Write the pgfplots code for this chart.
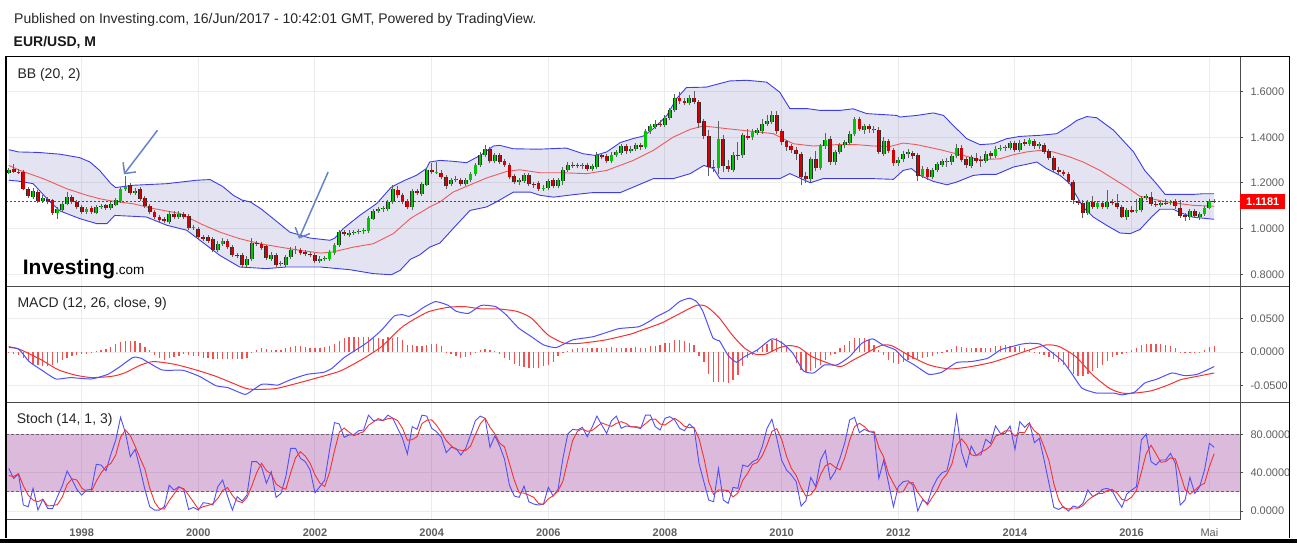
\documentclass[border=0pt]{standalone}
\usepackage{fontspec}
\setmainfont{Liberation Sans}
\usepackage{pgfplots}
\usepackage{pgfplotstable}
\pgfplotsset{compat=1.18}
\usetikzlibrary{arrows.meta}

\definecolor{cgreen}{RGB}{0,200,0}
\definecolor{cred}{RGB}{215,0,0}
\definecolor{cedge}{RGB}{45,45,45}
\definecolor{cwick}{RGB}{95,95,95}
\definecolor{bbblue}{RGB}{60,60,235}
\definecolor{bbred}{RGB}{240,90,90}
\definecolor{bbfill}{RGB}{0,0,128}
\definecolor{lblue}{RGB}{80,80,250}
\definecolor{lred}{RGB}{245,50,50}
\definecolor{histred}{RGB}{245,80,80}
\definecolor{stfill}{RGB}{128,0,128}
\definecolor{dashgray}{RGB}{105,95,115}
\definecolor{gridc}{RGB}{236,236,236}
\definecolor{axc}{RGB}{75,75,75}
\definecolor{labc}{RGB}{95,95,95}
\definecolor{arrowc}{RGB}{104,132,200}

% month index: 24 = Jan 1998 ... 257 = Jun 2017
% candle high / low
\pgfplotstableread{
i H L
9 1.265 1.238
10 1.284 1.244
11 1.262 1.238
12 1.258 1.168
13 1.184 1.136
14 1.178 1.130
15 1.170 1.112
16 1.146 1.112
17 1.140 1.106
18 1.132 1.058
19 1.094 1.044
20 1.118 1.072
21 1.160 1.102
22 1.146 1.108
23 1.124 1.086
24 1.104 1.064
25 1.096 1.066
26 1.098 1.064
27 1.104 1.062
28 1.108 1.088
29 1.110 1.082
30 1.116 1.082
31 1.136 1.098
32 1.184 1.114
33 1.230 1.166
34 1.200 1.148
35 1.176 1.148
36 1.182 1.122
37 1.142 1.090
38 1.108 1.064
39 1.082 1.042
40 1.060 1.028
41 1.052 1.024
42 1.076 1.020
43 1.076 1.042
44 1.076 1.044
45 1.074 1.042
46 1.062 0.994
47 1.016 0.994
48 1.008 0.954
49 0.972 0.946
50 0.972 0.938
51 0.962 0.896
52 0.944 0.896
53 0.958 0.926
54 0.956 0.910
55 0.928 0.874
56 0.894 0.870
57 0.892 0.828
58 0.878 0.830
59 0.960 0.860
60 0.948 0.924
61 0.942 0.906
62 0.930 0.862
63 0.896 0.860
64 0.894 0.832
65 0.858 0.836
66 0.884 0.834
67 0.918 0.866
68 0.924 0.890
69 0.916 0.884
70 0.906 0.878
71 0.898 0.874
72 0.894 0.848
73 0.878 0.850
74 0.882 0.858
75 0.906 0.860
76 0.938 0.886
77 0.996 0.920
78 0.996 0.968
79 0.992 0.964
80 0.994 0.972
81 0.998 0.976
82 1.002 0.978
83 1.056 0.980
84 1.086 1.036
85 1.096 1.068
86 1.100 1.074
87 1.126 1.078
88 1.190 1.108
89 1.186 1.136
90 1.154 1.106
91 1.130 1.084
92 1.172 1.082
93 1.174 1.148
94 1.206 1.144
95 1.264 1.186
96 1.288 1.240
97 1.290 1.238
98 1.256 1.216
99 1.236 1.172
100 1.224 1.188
101 1.232 1.204
102 1.224 1.188
103 1.224 1.188
104 1.250 1.206
105 1.288 1.232
106 1.334 1.268
107 1.366 1.316
108 1.358 1.286
109 1.332 1.286
110 1.330 1.282
111 1.304 1.270
112 1.288 1.216
113 1.238 1.194
114 1.222 1.190
115 1.242 1.198
116 1.242 1.188
117 1.206 1.180
118 1.208 1.166
119 1.190 1.166
120 1.218 1.170
121 1.220 1.180
122 1.220 1.180
123 1.268 1.192
124 1.290 1.250
125 1.294 1.266
126 1.288 1.264
127 1.288 1.262
128 1.286 1.252
129 1.282 1.254
130 1.334 1.262
131 1.332 1.304
132 1.326 1.286
133 1.334 1.286
134 1.346 1.314
135 1.372 1.324
136 1.372 1.328
137 1.360 1.330
138 1.376 1.338
139 1.374 1.344
140 1.436 1.348
141 1.458 1.416
142 1.474 1.436
143 1.476 1.446
144 1.496 1.446
145 1.530 1.474
146 1.590 1.510
147 1.600 1.548
148 1.572 1.540
149 1.586 1.542
150 1.604 1.544
151 1.564 1.440
152 1.480 1.392
153 1.430 1.230
154 1.300 1.250
155 1.470 1.240
156 1.410 1.250
157 1.300 1.250
158 1.336 1.250
159 1.380 1.300
160 1.420 1.310
161 1.436 1.390
162 1.436 1.390
163 1.442 1.410
164 1.480 1.416
165 1.500 1.450
166 1.514 1.458
167 1.514 1.416
168 1.436 1.368
169 1.390 1.342
170 1.372 1.330
171 1.356 1.300
172 1.336 1.190
173 1.250 1.200
174 1.314 1.206
175 1.340 1.254
176 1.372 1.256
177 1.420 1.350
178 1.404 1.280
179 1.345 1.280
180 1.376 1.326
181 1.390 1.354
182 1.426 1.366
183 1.490 1.404
184 1.490 1.426
185 1.460 1.414
186 1.458 1.420
187 1.448 1.420
188 1.444 1.326
189 1.400 1.318
190 1.394 1.330
191 1.352 1.276
192 1.312 1.276
193 1.340 1.294
194 1.348 1.310
195 1.342 1.306
196 1.330 1.208
197 1.274 1.220
198 1.272 1.214
199 1.264 1.218
200 1.292 1.246
201 1.304 1.270
202 1.310 1.272
203 1.326 1.278
204 1.370 1.308
205 1.368 1.292
206 1.316 1.266
207 1.324 1.264
208 1.330 1.286
209 1.320 1.270
210 1.340 1.286
211 1.342 1.306
212 1.360 1.308
213 1.366 1.340
214 1.368 1.342
215 1.386 1.344
216 1.386 1.336
217 1.388 1.336
218 1.392 1.362
219 1.398 1.362
220 1.394 1.350
221 1.380 1.350
222 1.374 1.326
223 1.350 1.300
224 1.320 1.246
225 1.270 1.240
226 1.258 1.230
227 1.250 1.194
228 1.212 1.110
229 1.130 1.104
230 1.124 1.045
231 1.126 1.058
232 1.145 1.084
233 1.120 1.086
234 1.120 1.084
235 1.170 1.084
236 1.130 1.104
237 1.150 1.086
238 1.104 1.045
239 1.090 1.040
240 1.098 1.070
241 1.128 1.068
242 1.145 1.072
243 1.150 1.124
244 1.160 1.098
245 1.118 1.096
246 1.122 1.094
247 1.128 1.102
248 1.126 1.102
249 1.128 1.088
250 1.125 1.048
251 1.070 1.035
252 1.084 1.040
253 1.086 1.048
254 1.072 1.040
255 1.100 1.056
256 1.128 1.084
257 1.128 1.114
}\wicks

% rising months: open (lo) and close (hi)
\pgfplotstableread{
i lo hi
9 1.245 1.258
14 1.138 1.167
16 1.121 1.135
19 1.070 1.084
20 1.080 1.109
21 1.110 1.138
25 1.073 1.084
27 1.070 1.095
28 1.095 1.099
30 1.090 1.106
31 1.105 1.127
32 1.121 1.175
33 1.175 1.182
35 1.157 1.167
42 1.029 1.066
44 1.051 1.066
47 1.003 1.006
52 0.905 0.934
53 0.934 0.948
58 0.839 0.868
59 0.868 0.938
63 0.868 0.886
65 0.845 0.848
66 0.842 0.875
67 0.875 0.908
68 0.908 0.911
73 0.858 0.868
74 0.865 0.872
75 0.868 0.897
76 0.894 0.929
77 0.929 0.985
79 0.973 0.982
80 0.980 0.985
81 0.984 0.988
82 0.988 0.992
83 0.990 1.048
84 1.044 1.076
85 1.076 1.087
86 1.084 1.090
87 1.087 1.117
88 1.117 1.175
92 1.095 1.163
94 1.152 1.197
95 1.193 1.255
97 1.245 1.250
100 1.197 1.215
101 1.215 1.219
103 1.197 1.215
104 1.215 1.240
105 1.240 1.277
106 1.277 1.324
107 1.324 1.350
109 1.295 1.321
114 1.204 1.211
115 1.207 1.233
119 1.175 1.179
120 1.179 1.208
122 1.189 1.211
123 1.208 1.258
124 1.258 1.277
127 1.273 1.277
129 1.262 1.273
130 1.270 1.324
133 1.295 1.324
134 1.324 1.335
135 1.332 1.362
137 1.340 1.350
138 1.347 1.365
140 1.357 1.426
141 1.426 1.448
142 1.445 1.460
144 1.455 1.484
145 1.484 1.518
146 1.518 1.574
149 1.552 1.574
155 1.265 1.394
158 1.258 1.321
160 1.321 1.411
162 1.400 1.423
163 1.420 1.430
164 1.426 1.460
165 1.460 1.470
166 1.467 1.499
174 1.216 1.303
176 1.265 1.362
177 1.362 1.387
179 1.292 1.335
180 1.336 1.365
181 1.365 1.379
182 1.376 1.416
183 1.413 1.479
185 1.433 1.448
187 1.434 1.437
189 1.328 1.384
192 1.287 1.302
193 1.303 1.328
194 1.328 1.336
197 1.229 1.263
199 1.226 1.255
200 1.255 1.282
201 1.280 1.295
202 1.295 1.298
203 1.292 1.317
204 1.317 1.355
207 1.274 1.314
210 1.295 1.328
212 1.318 1.350
213 1.350 1.355
214 1.355 1.358
215 1.353 1.375
217 1.346 1.377
219 1.372 1.387
221 1.361 1.369
231 1.068 1.116
233 1.095 1.111
235 1.093 1.116
239 1.049 1.080
241 1.076 1.080
242 1.080 1.134
243 1.134 1.141
246 1.104 1.112
248 1.111 1.117
252 1.049 1.076
254 1.052 1.064
255 1.064 1.092
256 1.092 1.121
}\upc

% falling months: close (lo) and open (hi)
\pgfplotstableread{
i lo hi
10 1.248 1.262
11 1.247 1.250
12 1.175 1.250
13 1.143 1.175
15 1.121 1.160
17 1.116 1.131
18 1.068 1.124
22 1.117 1.138
23 1.095 1.117
24 1.073 1.095
26 1.073 1.090
29 1.090 1.102
34 1.157 1.190
36 1.131 1.172
37 1.099 1.134
38 1.073 1.099
39 1.051 1.073
40 1.036 1.051
41 1.033 1.044
43 1.051 1.066
45 1.051 1.066
46 1.003 1.054
48 0.963 1.000
49 0.956 0.963
50 0.948 0.963
51 0.905 0.953
54 0.919 0.948
55 0.883 0.919
56 0.880 0.886
57 0.839 0.883
60 0.934 0.938
61 0.915 0.934
62 0.873 0.922
64 0.842 0.886
69 0.893 0.905
70 0.887 0.897
71 0.883 0.890
72 0.857 0.886
78 0.978 0.986
89 1.146 1.170
90 1.117 1.146
91 1.095 1.121
93 1.157 1.163
96 1.248 1.255
98 1.226 1.245
99 1.189 1.226
102 1.197 1.215
108 1.295 1.350
110 1.292 1.321
111 1.280 1.295
112 1.226 1.280
113 1.204 1.229
116 1.197 1.233
117 1.194 1.197
118 1.175 1.200
121 1.189 1.211
125 1.274 1.277
126 1.273 1.277
128 1.262 1.277
131 1.314 1.321
132 1.295 1.317
136 1.338 1.362
139 1.357 1.365
143 1.455 1.460
147 1.559 1.574
148 1.552 1.559
150 1.555 1.574
151 1.463 1.555
152 1.406 1.470
153 1.270 1.408
154 1.265 1.270
156 1.274 1.394
157 1.262 1.274
159 1.318 1.321
161 1.397 1.408
167 1.426 1.499
168 1.379 1.426
169 1.357 1.382
170 1.343 1.362
171 1.325 1.346
172 1.226 1.328
173 1.216 1.230
175 1.265 1.303
178 1.292 1.394
184 1.438 1.479
186 1.435 1.448
188 1.336 1.434
190 1.340 1.384
191 1.287 1.343
195 1.318 1.333
196 1.229 1.321
198 1.226 1.263
205 1.302 1.355
206 1.277 1.306
208 1.296 1.311
209 1.295 1.299
211 1.317 1.331
216 1.346 1.375
218 1.372 1.379
220 1.361 1.384
222 1.336 1.365
223 1.311 1.340
224 1.258 1.311
225 1.248 1.258
226 1.241 1.248
227 1.204 1.241
228 1.127 1.204
229 1.114 1.121
230 1.068 1.114
232 1.095 1.116
234 1.095 1.111
236 1.111 1.116
237 1.095 1.114
238 1.049 1.095
240 1.075 1.080
244 1.108 1.139
245 1.104 1.108
247 1.109 1.112
249 1.098 1.119
250 1.056 1.092
251 1.049 1.059
253 1.056 1.076
257 1.118 1.121
}\dnc

\pgfplotstableread{
i v
9 1.346
11 1.336
15 1.334
19.6 1.326
23.6 1.311
25.7 1.292
27.7 1.255
30 1.197
31 1.180
34.6 1.190
41.5 1.197
47.6 1.212
50.4 1.215
53 1.185
55.2 1.146
57 1.125
58.7 1.117
61 1.085
63.4 1.044
66.8 0.985
70.9 0.959
75.1 0.949
76.1 0.959
77.8 1.000
81.2 1.058
84.7 1.110
87.7 1.182
90.5 1.212
92.9 1.234
94.9 1.263
95.6 1.292
97.7 1.299
100.4 1.295
103.2 1.289
106 1.321
108.7 1.362
110 1.365
112.8 1.350
118 1.348
123.7 1.353
127.2 1.328
129.6 1.321
132 1.336
134.8 1.377
137.5 1.395
139.6 1.406
141.6 1.438
144.4 1.496
146.4 1.570
148.4 1.618
152.5 1.620
157.3 1.647
160.8 1.650
164.9 1.642
167.6 1.598
169.7 1.526
173.2 1.526
175.9 1.518
180 1.518
182.7 1.525
185.5 1.504
191.7 1.496
192.3 1.489
195.8 1.496
199.2 1.507
201.3 1.496
203.3 1.452
206.1 1.394
208.8 1.368
211.6 1.372
214.3 1.394
217 1.404
221.2 1.409
224.6 1.416
227.3 1.452
228.7 1.474
230.8 1.491
232.8 1.486
236.3 1.431
240.4 1.336
242.7 1.255
245.1 1.197
246.9 1.150
252.7 1.150
254.7 1.153
257 1.153
}\bbup

\pgfplotstableread{
i v
9 1.277
11.3 1.255
16.1 1.219
20.9 1.175
25.1 1.146
27.7 1.131
30.5 1.120
34.6 1.109
38.8 1.088
44.3 1.066
48.4 1.022
52.4 0.985
56.5 0.956
60.7 0.934
64.8 0.919
68.9 0.905
73.1 0.893
75.7 0.898
79.9 0.919
84 0.934
88.1 0.978
91.6 1.044
95.6 1.095
97.7 1.117
100.4 1.160
104.5 1.197
107.3 1.222
111.5 1.251
114.1 1.258
118.3 1.245
122.4 1.245
127.9 1.241
132 1.255
137.5 1.299
141.6 1.343
145.7 1.401
149.2 1.435
151.9 1.450
156.7 1.438
162.1 1.426
166.3 1.416
170.4 1.372
174.5 1.362
179.3 1.368
183.4 1.368
186.9 1.362
190.3 1.360
193 1.375
195.8 1.368
200.6 1.346
204.7 1.324
208.8 1.302
212.9 1.306
215.7 1.324
218.4 1.336
221.2 1.343
223.9 1.336
227.3 1.314
230 1.292
233.5 1.255
236.2 1.219
239 1.182
241.7 1.142
244.1 1.131
247.2 1.117
250 1.109
252.7 1.102
257 1.098
}\bbmid

\pgfplotstableread{
i v
9 1.212
10.7 1.209
14 1.197
17.5 1.117
19.6 1.077
23.6 1.044
27.1 1.022
29.2 1.022
30.8 1.058
34.6 1.054
37.3 1.051
41.5 1.015
45.6 0.993
49.7 0.927
52.4 0.883
56.5 0.832
62 0.825
66.1 0.832
73.1 0.832
79.2 0.820
84 0.803
87.7 0.798
89.5 0.817
91.6 0.865
93.6 0.886
95.6 0.919
97.7 0.937
100.4 1.000
103.9 1.080
107.3 1.095
109.3 1.117
112.8 1.160
116.3 1.160
118.3 1.146
121.1 1.138
125.2 1.149
129.2 1.158
134.8 1.158
137.5 1.182
141.6 1.219
145.7 1.219
149.2 1.241
152 1.277
154 1.263
155.3 1.219
162.1 1.219
167.6 1.219
169.7 1.241
173.9 1.201
176.5 1.219
182 1.219
186.9 1.219
191 1.216
193 1.255
194.7 1.263
196.5 1.233
199.2 1.207
202 1.192
204 1.204
207.4 1.233
209.5 1.238
212.2 1.238
215.7 1.270
218.4 1.282
220.5 1.292
222.5 1.263
225.3 1.233
227.3 1.197
228 1.168
230 1.095
232.1 1.051
234.9 1.014
237.6 0.981
239.7 0.978
241.7 0.996
244.1 1.051
245.8 1.085
248.6 1.085
250 1.070
252.7 1.050
257 1.041
}\bblo

% band outline for the shaded area: upper band forward, lower band backward
\pgfplotstableread{
i v
9 1.346
11 1.336
15 1.334
19.6 1.326
23.6 1.311
25.7 1.292
27.7 1.255
30 1.197
31 1.180
34.6 1.190
41.5 1.197
47.6 1.212
50.4 1.215
53 1.185
55.2 1.146
57 1.125
58.7 1.117
61 1.085
63.4 1.044
66.8 0.985
70.9 0.959
75.1 0.949
76.1 0.959
77.8 1.000
81.2 1.058
84.7 1.110
87.7 1.182
90.5 1.212
92.9 1.234
94.9 1.263
95.6 1.292
97.7 1.299
100.4 1.295
103.2 1.289
106 1.321
108.7 1.362
110 1.365
112.8 1.350
118 1.348
123.7 1.353
127.2 1.328
129.6 1.321
132 1.336
134.8 1.377
137.5 1.395
139.6 1.406
141.6 1.438
144.4 1.496
146.4 1.570
148.4 1.618
152.5 1.620
157.3 1.647
160.8 1.650
164.9 1.642
167.6 1.598
169.7 1.526
173.2 1.526
175.9 1.518
180 1.518
182.7 1.525
185.5 1.504
191.7 1.496
192.3 1.489
195.8 1.496
199.2 1.507
201.3 1.496
203.3 1.452
206.1 1.394
208.8 1.368
211.6 1.372
214.3 1.394
217 1.404
221.2 1.409
224.6 1.416
227.3 1.452
228.7 1.474
230.8 1.491
232.8 1.486
236.3 1.431
240.4 1.336
242.7 1.255
245.1 1.197
246.9 1.150
252.7 1.150
254.7 1.153
257 1.153
257 1.041
252.7 1.050
250 1.070
248.6 1.085
245.8 1.085
244.1 1.051
241.7 0.996
239.7 0.978
237.6 0.981
234.9 1.014
232.1 1.051
230 1.095
228 1.168
227.3 1.197
225.3 1.233
222.5 1.263
220.5 1.292
218.4 1.282
215.7 1.270
212.2 1.238
209.5 1.238
207.4 1.233
204 1.204
202 1.192
199.2 1.207
196.5 1.233
194.7 1.263
193 1.255
191 1.216
186.9 1.219
182 1.219
176.5 1.219
173.9 1.201
169.7 1.241
167.6 1.219
162.1 1.219
155.3 1.219
154 1.263
152 1.277
149.2 1.241
145.7 1.219
141.6 1.219
137.5 1.182
134.8 1.158
129.2 1.158
125.2 1.149
121.1 1.138
118.3 1.146
116.3 1.160
112.8 1.160
109.3 1.117
107.3 1.095
103.9 1.080
100.4 1.000
97.7 0.937
95.6 0.919
93.6 0.886
91.6 0.865
89.5 0.817
87.7 0.798
84 0.803
79.2 0.820
73.1 0.832
66.1 0.832
62 0.825
56.5 0.832
52.4 0.883
49.7 0.927
45.6 0.993
41.5 1.015
37.3 1.051
34.6 1.054
30.8 1.058
29.2 1.022
27.1 1.022
23.6 1.044
19.6 1.077
17.5 1.117
14 1.197
10.7 1.209
9 1.212
}\bbpoly

\pgfplotstableread{
i v
9 0.0069
11 0.005
13.2 -0.014
15.7 -0.0264
18.7 -0.040
21.7 -0.0379
26 -0.040
29.4 -0.033
31.9 -0.0215
34.5 -0.008
36.2 -0.009
40.5 -0.0264
44.8 -0.027
48.2 -0.036
51.6 -0.050
54.1 -0.053
57.6 -0.063
59.3 -0.056
61 -0.048
62.7 -0.048
64.4 -0.049
67 -0.041
70.4 -0.033
73.8 -0.030
75.5 -0.024
78 -0.008
81.5 0.0084
83.2 0.017
85.7 0.033
88.3 0.054
90 0.056
91.3 0.0535
92.6 0.058
94.3 0.0667
96.8 0.0756
99.4 0.070
101.1 0.061
103.6 0.058
106.2 0.070
109.2 0.068
111.3 0.056
113.9 0.036
116.5 0.0233
119 0.011
121.6 0.0069
125 0.0184
129.3 0.0233
134.4 0.035
138.6 0.038
141 0.047
142.3 0.0533
144.9 0.063
147 0.0756
149 0.0806
150.5 0.0756
151.8 0.061
153.9 0.0209
155.2 0.017
157 -0.005
158.7 -0.015
160.4 -0.0065
163 0.0035
166 0.020
168.2 0.0134
170.3 -0.0015
172.5 -0.028
174.6 -0.031
176.8 -0.019
179.4 -0.019
182 -0.0065
184.5 0.0134
186.7 0.020
188.8 0.011
191.4 0.0035
193.2 -0.010
195.3 -0.019
198.3 -0.033
200.9 -0.030
204 -0.0154
207 -0.014
210.4 -0.009
213 0.0035
214.7 0.007
217.3 0.012
219 0.0134
221.2 0.012
223.8 -0.0015
225.9 -0.014
227.6 -0.031
229.8 -0.0537
232.8 -0.061
236.3 -0.061
238 -0.0637
240.6 -0.0597
242.7 -0.046
245.3 -0.040
248.3 -0.031
250.9 -0.035
253.5 -0.033
257 -0.0214
}\macd

\pgfplotstableread{
i v
9 0.0084
11.5 0.0035
15.7 -0.0114
19.1 -0.026
22.6 -0.034
26 -0.0379
30.2 -0.036
32.8 -0.031
36.2 -0.019
38.8 -0.014
43 -0.0179
47.3 -0.026
51.6 -0.036
55 -0.046
58.4 -0.055
63.5 -0.0547
67 -0.049
72.1 -0.039
77.2 -0.028
81.5 -0.0114
85.7 0.0084
90 0.038
95.1 0.0597
99.4 0.067
102.8 0.068
106.2 0.0647
109.6 0.0647
113.5 0.061
116.5 0.051
119.9 0.026
123.3 0.0134
126.7 0.0134
131.8 0.0184
136.9 0.027
138.85 0.032
143.2 0.0433
146.6 0.056
150.5 0.070
152.6 0.068
155.2 0.051
157.8 0.026
160.4 0.006
162.6 -0.003
164.7 -0.003
167.3 0.006
169.5 0.0099
171.6 0.007
174.2 -0.0065
177.6 -0.0164
180.2 -0.0214
182.8 -0.0114
185.4 -0.0015
188.4 0.0099
190.6 0.0099
194 -0.004
198.3 -0.019
202.6 -0.025
207 -0.0214
211.3 -0.015
215.6 -0.005
219 0.0035
222.5 0.011
225.1 0.0084
228.5 -0.0065
232 -0.034
235.4 -0.0537
238 -0.061
240.6 -0.061
244 -0.0577
247.5 -0.049
250.1 -0.041
253.5 -0.036
257 -0.031
}\signal

\pgfplotstableread{
i h
9 -0.001
10 -0.002
11 -0.004
12 -0.008
13 -0.013
14 -0.017
15 -0.019
16 -0.020
17 -0.021
18 -0.019
19 -0.016
20 -0.012
21 -0.009
22 -0.006
23 -0.004
24 -0.002
25 -0.002
26 -0.001
27 0.002
28 0.003
29 0.005
30 0.008
31 0.012
32 0.015
33 0.016
34 0.017
35 0.016
36 0.013
37 0.008
38 0.003
39 -0.004
40 -0.009
41 -0.011
42 -0.009
43 -0.007
44 -0.005
45 -0.003
46 -0.004
47 -0.005
48 -0.006
49 -0.008
50 -0.009
51 -0.010
52 -0.010
53 -0.010
54 -0.010
55 -0.010
56 -0.010
57 -0.010
58 -0.008
59 0.001
60 0.004
61 0.006
62 0.005
63 0.003
64 0.003
65 0.004
66 0.006
67 0.008
68 0.009
69 0.009
70 0.008
71 0.007
72 0.007
73 0.007
74 0.008
75 0.010
76 0.012
77 0.017
78 0.021
79 0.022
80 0.022
81 0.022
82 0.022
83 0.022
84 0.022
85 0.021
86 0.019
87 0.023
88 0.021
89 0.023
90 0.018
91 0.011
92 0.011
93 0.009
94 0.010
95 0.011
96 0.012
97 0.012
98 0.009
99 0.001
100 -0.003
101 -0.005
102 -0.008
103 -0.007
104 -0.004
105 -0.001
106 0.004
107 0.005
108 0.004
109 0.002
110 -0.002
111 -0.008
112 -0.012
113 -0.017
114 -0.020
115 -0.022
116 -0.024
117 -0.024
118 -0.023
119 -0.021
120 -0.019
121 -0.014
122 -0.006
123 0.001
124 0.002
125 0.005
126 0.006
127 0.007
128 0.006
129 0.007
130 0.007
131 0.006
132 0.006
133 0.008
134 0.007
135 0.007
136 0.006
137 0.006
138 0.008
139 0.007
140 0.007
141 0.009
142 0.010
143 0.011
144 0.013
145 0.014
146 0.018
147 0.018
148 0.017
149 0.013
150 0.011
151 -0.005
152 -0.014
153 -0.033
154 -0.044
155 -0.044
156 -0.045
157 -0.046
158 -0.041
159 -0.034
160 -0.020
161 -0.009
162 -0.004
163 0.003
164 0.011
165 0.012
166 0.018
167 0.021
168 0.016
169 0.008
170 0.002
171 -0.016
172 -0.026
173 -0.030
174 -0.028
175 -0.024
176 -0.019
177 -0.012
178 -0.004
179 -0.002
180 0.006
181 0.011
182 0.016
183 0.021
184 0.021
185 0.021
186 0.018
187 0.011
188 0.003
189 -0.004
190 -0.011
191 -0.016
192 -0.017
193 -0.015
194 -0.012
195 -0.010
196 -0.010
197 -0.008
198 -0.007
199 -0.005
200 -0.002
201 0.001
202 0.003
203 0.005
204 0.010
205 0.008
206 0.007
207 0.007
208 0.006
209 0.007
210 0.006
211 0.007
212 0.009
213 0.010
214 0.011
215 0.010
216 0.008
217 0.009
218 0.006
219 0.003
220 -0.001
221 -0.002
222 -0.004
223 -0.007
224 -0.010
225 -0.015
226 -0.019
227 -0.024
228 -0.033
229 -0.036
230 -0.035
231 -0.032
232 -0.028
233 -0.023
234 -0.019
235 -0.013
236 -0.007
237 -0.004
238 -0.002
239 -0.001
240 0.003
241 0.006
242 0.011
243 0.012
244 0.012
245 0.012
246 0.012
247 0.011
248 0.010
249 0.006
250 0.001
251 0.001
252 0.001
253 0.001
254 0.001
255 0.003
256 0.008
257 0.009
}\hist

\pgfplotstableread{
i K D
9 44.5 37
10 34 36
11 38.6 39.0
12 6.3 26.3
13 4.5 16.5
14 23.7 11.5
15 1 9.7
16 12.2 12.3
17 2.8 5.3
18 2.4 5.8
19 15 6.7
20 26 14.5
21 41.7 27.6
22 33 33.6
23 22.6 32.4
24 16.7 24.1
25 21.9 20.4
26 22.6 20.4
27 48.7 31.1
28 48 39.8
29 42 46.2
30 59 49.7
31 74 58.3
32 97.7 76.9
33 81.7 84.5
34 56.7 78.7
35 64.3 67.6
36 44.5 55.2
37 22.6 43.8
38 4.5 23.9
39 1 9.4
40 1 2.2
41 4.5 2.2
42 27 10.8
43 21.9 17.8
44 25.4 24.8
45 22.6 23.3
46 1.7 16.6
47 3.8 9.4
48 1 2.2
49 8.7 4.5
50 8 5.9
51 6.3 7.7
52 25.4 13.2
53 32.3 21.3
54 15.7 24.5
55 1 16.3
56 15 10.6
57 10.4 8.8
58 16.7 14.0
59 51.5 26.2
60 51.5 39.9
61 46.3 49.8
62 28.9 42.2
63 41 38.7
64 14.3 28.1
65 18.4 24.6
66 35.8 22.8
67 65.4 39.9
68 65.4 55.5
69 55 61.9
70 51.5 57.3
71 42.8 49.8
72 19.1 37.8
73 25.4 29.1
74 32.3 25.6
75 63.7 40.5
76 92.2 62.7
77 90.8 82.2
78 76.9 86.6
79 79.3 82.3
80 79.7 78.6
81 83.8 80.9
82 84.5 82.7
83 100 89.4
84 94.3 92.9
85 95 96.4
86 94.3 94.5
87 100 96.4
88 96.7 97.0
89 86.3 94.3
90 75.8 86.3
91 59.5 73.9
92 88 74.4
93 85.2 77.6
94 100 91.1
95 99 94.7
96 86.3 95.1
97 82.8 89.4
98 76.9 82.0
99 60.9 73.5
100 66.4 68.1
101 65.4 64.2
102 58.4 63.4
103 65.4 63.1
104 79.3 67.7
105 94.3 79.7
106 99 90.9
107 96.7 96.7
108 66.4 87.4
109 78.3 80.5
110 67.8 70.8
111 53.9 66.7
112 27 49.6
113 15.7 32.2
114 14.3 19.0
115 26 18.7
116 9.7 16.7
117 7.3 14.3
118 6.3 7.8
119 7.3 7.0
120 24.7 12.8
121 15.7 15.9
122 22.6 21.0
123 55 31.1
124 80.3 52.6
125 85.2 73.5
126 84.5 83.3
127 87.3 85.7
128 77.6 83.1
129 87.3 84.1
130 99 88.0
131 89.7 92.0
132 81 89.9
133 94.3 88.3
134 99 91.4
135 86.3 93.2
136 88.7 91.3
137 88 87.7
138 87.3 88.0
139 86 87.1
140 100 91.1
141 100 95.3
142 88 96.0
143 84.5 90.8
144 96.7 89.7
145 98.4 93.2
146 95 96.7
147 86.3 93.2
148 83.8 88.4
149 90.8 87.0
150 86.3 87.0
151 49.7 75.6
152 30.6 55.5
153 11.5 30.6
154 9.7 17.3
155 44.5 21.9
156 11.5 21.9
157 8 21.3
158 24.7 14.7
159 23.7 18.8
160 48 32.1
161 46.3 39.3
162 51.5 48.6
163 53.9 50.6
164 67 57.5
165 86.3 69.1
166 95.7 83.0
167 75.8 85.9
168 53.2 74.9
169 42.8 57.3
170 37.6 44.5
171 30.6 37.0
172 5.2 24.5
173 10.8 15.5
174 35.1 17.0
175 25.4 23.8
176 53.2 37.9
177 63 47.2
178 33 49.7
179 41 45.7
180 55 43.0
181 71.3 55.8
182 95 73.8
183 97.7 88.0
184 81.7 91.5
185 85.2 88.2
186 82.8 83.2
187 81.7 83.2
188 34 66.2
189 53.2 56.3
190 28.9 38.7
191 4.5 28.9
192 25.4 19.6
193 30.6 20.2
194 31.6 29.2
195 27 29.7
196 0 19.5
197 11.5 12.8
198 8 6.5
199 23.7 14.4
200 34 21.9
201 40 32.6
202 42 38.7
203 63.7 48.6
204 100 68.6
205 62 75.2
206 46.3 69.4
207 67.8 58.7
208 58.4 57.5
209 58.4 61.5
210 74.8 63.9
211 70.6 67.9
212 88.7 78.0
213 81 80.1
214 81 83.6
215 88.7 83.6
216 64.3 78.0
217 93.2 82.1
218 87.3 81.6
219 92.2 90.9
220 71.3 83.6
221 75.8 79.8
222 53.2 66.8
223 28.9 52.6
224 3.8 28.6
225 1.7 11.5
226 4.5 3.3
227 0 2.1
228 5.2 3.2
229 3.8 3.0
230 8 5.7
231 21.9 11.2
232 15 15.0
233 17.7 18.2
234 22.6 18.4
235 23.7 21.3
236 21.2 22.5
237 11.5 18.8
238 3.8 12.2
239 17.7 11.0
240 21.9 14.5
241 25.4 21.7
242 74 40.4
243 80.3 59.9
244 51.5 68.6
245 48 59.9
246 53.2 50.9
247 53.2 51.5
248 60.2 55.5
249 49.7 54.4
250 6.3 38.7
251 11.5 22.5
252 35.1 17.6
253 18.4 21.7
254 25.4 26.3
255 42.8 28.9
256 70.6 46.3
257 66.4 59.9
}\stoch

\pgfplotsset{
 panel/.style={
  scale only axis, width=1234pt, xmin=8.43, xmax=262.3,
  axis line style={draw=axc, line width=1pt},
  xtick={24,48,72,96,120,144,168,192,216,240,256},
  xticklabels={},
  x tick style={draw=none},
  xmajorgrids, ymajorgrids,
  grid style={draw=gridc, line width=1pt},
  ytick pos=right, yticklabel pos=right,
  tick align=outside, major tick length=3pt,
  y tick style={draw=axc, line width=1pt},
  scaled y ticks=false,
  yticklabel style={font=\fontsize{11}{12}\selectfont, text=labc, anchor=west, xshift=4pt},
  clip=false,
 },
}

\begin{document}
\begin{tikzpicture}
\path[use as bounding box] (0pt,0pt) rectangle (1297pt,543pt);
\fill[white] (0pt,0pt) rectangle (1297pt,543pt);

% ---------------- price panel
\begin{axis}[panel, at={(6pt,256.3pt)}, anchor=south west, height=230pt,
  ymin=0.7457, ymax=1.7533,
  ytick={0.8,1,1.2,1.4,1.6}, yticklabels={0.8000,1.0000,1.2000,1.4000,1.6000}]
 \addplot[fill=bbfill, fill opacity=0.11, draw=none, forget plot] table[x=i,y=v] {\bbpoly};
 \addplot[draw=bbblue, line width=0.9pt, mark=none, forget plot] table[x=i,y=v] {\bbup};
 \addplot[draw=bbblue, line width=0.9pt, mark=none, forget plot] table[x=i,y=v] {\bblo};
 \addplot[draw=bbred, line width=0.9pt, mark=none, forget plot] table[x=i,y=v] {\bbmid};
 % wicks
 \addplot[draw=none, mark=none, forget plot,
   error bars/.cd, y dir=plus, y explicit, error mark=none,
   error bar style={draw=cwick, line width=1pt}]
   table[x=i, y=L, y error plus expr=\thisrow{H}-\thisrow{L}] {\wicks};
 % rising candles
 \addplot[draw=none, mark=none, forget plot,
   error bars/.cd, y dir=plus, y explicit, error mark=none,
   error bar style={draw=cedge, line width=3.8pt, line cap=butt}]
   table[x=i, y=lo, y error plus expr=\thisrow{hi}-\thisrow{lo}] {\upc};
 \addplot[draw=none, mark=none, forget plot,
   error bars/.cd, y dir=plus, y explicit, error mark=none,
   error bar style={draw=cgreen, line width=2.3pt, line cap=butt}]
   table[x=i, y=lo, y error plus expr=\thisrow{hi}-\thisrow{lo}] {\upc};
 % falling candles
 \addplot[draw=none, mark=none, forget plot,
   error bars/.cd, y dir=plus, y explicit, error mark=none,
   error bar style={draw=cedge, line width=3.8pt, line cap=butt}]
   table[x=i, y=lo, y error plus expr=\thisrow{hi}-\thisrow{lo}] {\dnc};
 \addplot[draw=none, mark=none, forget plot,
   error bars/.cd, y dir=plus, y explicit, error mark=none,
   error bar style={draw=cred, line width=2.3pt, line cap=butt}]
   table[x=i, y=lo, y error plus expr=\thisrow{hi}-\thisrow{lo}] {\dnc};
 % last price line
 \addplot[red, line width=1pt, dash pattern=on 2pt off 2pt, mark=none, forget plot] coordinates {(8.43,1.1181) (262.3,1.1181)};
 \node[fill=red, text=white, font=\fontsize{11}{12}\selectfont\bfseries, anchor=west,
   inner xsep=6pt, inner ysep=0pt, minimum height=15.5pt] at (axis cs:262.3,1.1181) {1.1181};
 % annotation arrows
 \draw[arrowc, line width=1.5pt, -{Straight Barb[length=8pt,width=16pt]}] (axis cs:39.6,1.431) -- (axis cs:32.7,1.238);
 \draw[arrowc, line width=1.5pt, -{Straight Barb[length=8pt,width=16pt]}] (axis cs:74.7,1.248) -- (axis cs:68.7,0.956);
\end{axis}

% ---------------- MACD panel
\begin{axis}[panel, at={(6pt,140.7pt)}, anchor=south west, height=115.6pt,
  ymin=-0.0748, ymax=0.0978,
  ytick={-0.05,0,0.05}, yticklabels={-0.0500,0.0000,0.0500}]
 \addplot[draw=none, mark=none, forget plot, error bars/.cd, y dir=minus, y explicit, error mark=none,
   error bar style={draw=histred, line width=1.3pt, line cap=butt}]
   table[x=i, y=h, y error minus expr=\thisrow{h}] {\hist};
 \addplot[draw=lred, line width=1pt, mark=none, smooth, tension=0.4, forget plot] table[x=i,y=v] {\signal};
 \addplot[draw=lblue, line width=1pt, mark=none, smooth, tension=0.3, forget plot] table[x=i,y=v] {\macd};
\end{axis}

% ---------------- Stochastic panel
\begin{axis}[panel, at={(6pt,24pt)}, anchor=south west, height=116.7pt,
  ymin=-8.3, ymax=113.4,
  ytick={0,40,80}, yticklabels={0.0000,40.0000,80.0000},
  xticklabels={\textbf{1998},\textbf{2000},\textbf{2002},\textbf{2004},\textbf{2006},\textbf{2008},\textbf{2010},\textbf{2012},\textbf{2014},\textbf{2016},Mai},
  xticklabel style={font=\fontsize{11}{12}\selectfont, text=labc, anchor=center, yshift=-11pt}]
 \fill[stfill, fill opacity=0.27] (axis cs:8.43,20) rectangle (axis cs:262.3,80);
 \addplot[dashgray, line width=1pt, dash pattern=on 3pt off 2pt, mark=none, forget plot] coordinates {(8.43,80) (262.3,80)};
 \addplot[dashgray, line width=1pt, dash pattern=on 3pt off 2pt, mark=none, forget plot] coordinates {(8.43,20) (262.3,20)};
 \addplot[draw=lblue, line width=0.9pt, mark=none, forget plot] table[x=i,y=K] {\stoch};
 \addplot[draw=lred, line width=0.9pt, mark=none, forget plot] table[x=i,y=D] {\stoch};
\end{axis}

% separators into the price scale, outer frame
\draw[axc, line width=1pt] (1240pt,256.3pt) -- (1290pt,256.3pt);
\draw[axc, line width=1pt] (1240pt,140.7pt) -- (1290pt,140.7pt);
\draw[black, line width=1.3pt] (6pt,5pt) -- (6pt,486.3pt) -- (1289.5pt,486.3pt) -- (1289.5pt,5pt);
\fill[black] (0pt,0pt) rectangle (1297pt,3.8pt);

% texts
\node[anchor=base west, inner sep=0pt, font=\fontsize{14}{16}\selectfont, text=black!85] at (14pt,519.7pt)
  {Published on Investing.com, 16/Jun/2017 - 10:42:01 GMT, Powered by TradingView.};
\node[anchor=base west, inner sep=0pt, font=\fontsize{14}{16}\selectfont\bfseries, text=black!90] at (13.5pt,496.3pt) {EUR/USD, M};
\node[anchor=base west, inner sep=0pt, font=\fontsize{14}{16}\selectfont, text=black!85] at (17.3pt,464.7pt) {BB (20, 2)};
\node[anchor=base west, inner sep=0pt, font=\fontsize{14}{16}\selectfont, text=black!85] at (17.3pt,235.3pt) {MACD (12, 26, close, 9)};
\node[anchor=base west, inner sep=0pt, font=\fontsize{14}{16}\selectfont, text=black!85] at (16.6pt,119.7pt) {Stoch (14, 1, 3)};
\node[anchor=base west, inner sep=0pt] at (22.7pt,268.7pt)
  {{\fontsize{21}{23}\selectfont\bfseries Investing}{\fontsize{13.5}{15}\selectfont .com}};
\end{tikzpicture}
\end{document}
